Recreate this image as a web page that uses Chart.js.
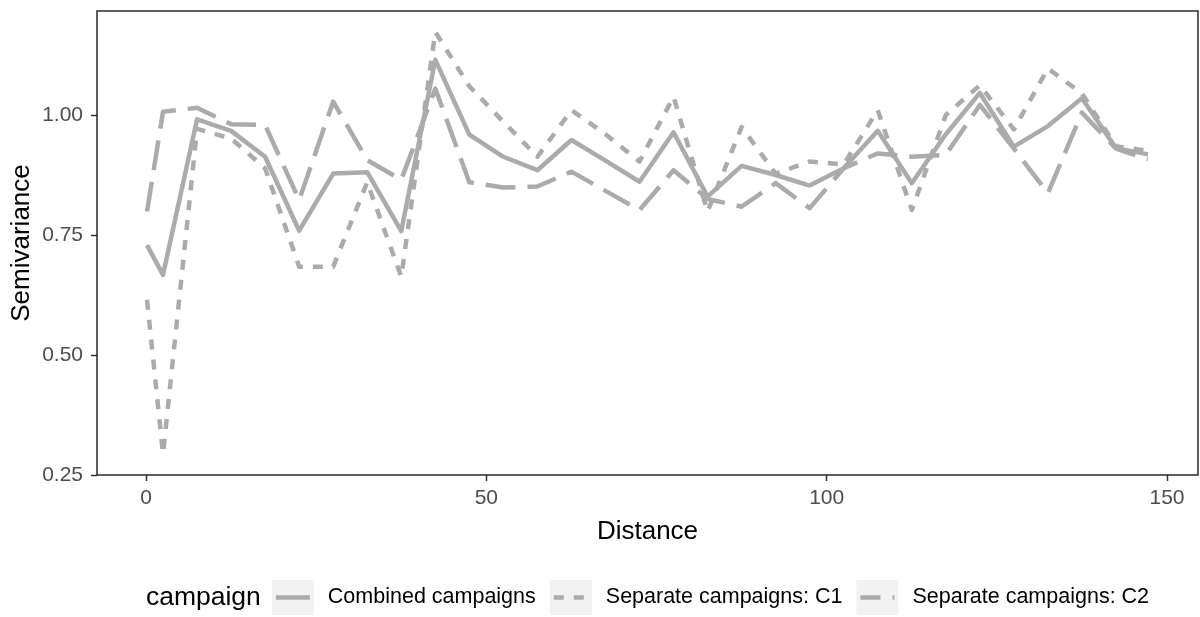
<!DOCTYPE html>
<html>
<head>
<meta charset="utf-8">
<title>Semivariance by distance</title>
<script src="https://cdn.jsdelivr.net/npm/chart.js@4/dist/chart.umd.min.js"></script>
<style>
  html, body { margin: 0; padding: 0; background: #ffffff; }
  canvas { display: block; }
</style>
</head>
<body>
<canvas id="chart" width="1200" height="617"></canvas>
<script>
// Lag distances (bin centres) shared by all three variograms
const distance = [0.15, 2.5, 7.5, 12.5, 17.5, 22.5, 27.5, 32.5, 37.5, 42.5, 47.5,
  52.5, 57.5, 62.5, 67.5, 72.5, 77.5, 82.5, 87.5, 92.5, 97.5, 102.5, 107.5,
  112.5, 117.5, 122.5, 127.5, 132.5, 137.5, 142.5, 147.2];

// Empirical semivariance per lag
const combined = [0.729, 0.667, 0.991, 0.967, 0.913, 0.759, 0.878, 0.881, 0.758, 1.115, 0.959,
  0.913, 0.885, 0.948, 0.905, 0.861, 0.964, 0.830, 0.894, 0.875, 0.853, 0.889, 0.967,
  0.858, 0.960, 1.046, 0.934, 0.977, 1.035, 0.931, 0.918];
const separateC1 = [0.615, 0.294, 0.971, 0.951, 0.889, 0.684, 0.684, 0.860, 0.663, 1.173, 1.060,
  0.986, 0.913, 1.010, 0.960, 0.903, 1.038, 0.799, 0.975, 0.878, 0.903, 0.897, 1.010,
  0.802, 1.000, 1.062, 0.970, 1.097, 1.045, 0.935, 0.925];
const separateC2 = [0.799, 1.007, 1.015, 0.981, 0.979, 0.823, 1.028, 0.906, 0.865, 1.055, 0.860,
  0.849, 0.851, 0.882, 0.842, 0.802, 0.885, 0.825, 0.809, 0.858, 0.806, 0.889, 0.920,
  0.913, 0.917, 1.021, 0.930, 0.837, 1.005, 0.930, 0.908];

const seriesNames = ['Combined campaigns', 'Separate campaigns: C1', 'Separate campaigns: C2'];
const legendTitle = 'campaign';
const xTicks = [0, 50, 100, 150];
const yTicks = [0.25, 0.50, 0.75, 1.00];

const FONT = '"Liberation Sans", Arial, Helvetica, sans-serif';
const LINE_COLOR = '#ababab';
const LINE_WIDTH = 4.5;
const DASHES = [[], [10, 10], [30, 12]];
const KEY_DASH_OFFSET = [0, 0, 10];

const toPoints = ys => distance.map((d, i) => ({ x: d, y: ys[i] }));
const seriesValues = [combined, separateC1, separateC2];

// Frame around the plotting panel, drawn over the lines
const panelBorder = {
  id: 'panelBorder',
  afterDatasetsDraw(chart) {
    const { ctx, chartArea: a } = chart;
    ctx.save();
    ctx.strokeStyle = '#1a1a1a';
    ctx.lineWidth = 1.4;
    ctx.setLineDash([]);
    ctx.strokeRect(a.left, a.top, a.right - a.left, a.bottom - a.top);
    ctx.restore();
  }
};

// Horizontal legend under the axis title
const bottomLegend = {
  id: 'bottomLegend',
  afterDraw(chart) {
    const { ctx, chartArea: a } = chart;
    const keyW = 42, keyH = 35, keyGap = 14, itemGap = 14, titleGap = 11;
    const cy = 597.5;
    ctx.save();
    ctx.textBaseline = 'middle';
    ctx.textAlign = 'left';
    ctx.font = '26.5px ' + FONT;
    const titleW = ctx.measureText(legendTitle).width;
    ctx.font = '21.5px ' + FONT;
    const widths = seriesNames.map(n => ctx.measureText(n).width);
    const total = titleW + titleGap + widths.reduce((s, w) => s + keyW + keyGap + w, 0) + itemGap * (seriesNames.length - 1);
    let x = (a.left + a.right) / 2 - total / 2;

    ctx.fillStyle = '#000000';
    ctx.font = '26.5px ' + FONT;
    ctx.fillText(legendTitle, x, cy);
    x += titleW + titleGap;

    seriesNames.forEach((name, i) => {
      ctx.fillStyle = '#f2f2f2';
      ctx.fillRect(x, cy - keyH / 2, keyW, keyH);
      ctx.strokeStyle = LINE_COLOR;
      ctx.lineWidth = LINE_WIDTH;
      ctx.lineCap = 'butt';
      ctx.setLineDash(DASHES[i]);
      ctx.lineDashOffset = KEY_DASH_OFFSET[i];
      ctx.beginPath();
      ctx.moveTo(x + 4, cy);
      ctx.lineTo(x + keyW - 4, cy);
      ctx.stroke();
      ctx.setLineDash([]);
      ctx.lineDashOffset = 0;
      x += keyW + keyGap;
      ctx.fillStyle = '#000000';
      ctx.font = '21.5px ' + FONT;
      ctx.fillText(name, x, cy);
      x += widths[i] + itemGap;
    });
    ctx.restore();
  }
};

new Chart(document.getElementById('chart'), {
  type: 'line',
  data: {
    datasets: seriesNames.map((name, i) => ({
      label: name,
      data: toPoints(seriesValues[i]),
      borderColor: LINE_COLOR,
      borderWidth: LINE_WIDTH,
      borderDash: DASHES[i],
      borderCapStyle: 'butt',
      borderJoinStyle: 'round',
      pointRadius: 0,
      fill: false,
      tension: 0
    }))
  },
  options: {
    responsive: false,
    animation: false,
    devicePixelRatio: 1,
    layout: { padding: { top: 11, right: 2, left: 0, bottom: 0 } },
    plugins: { legend: { display: false }, tooltip: { enabled: false } },
    scales: {
      x: {
        type: 'linear',
        min: -7.2,
        max: 154.55,
        afterBuildTicks: s => { s.ticks = xTicks.map(v => ({ value: v })); },
        afterFit: s => { s.height = 142; s.paddingLeft = 0; s.paddingRight = 0; },
        grid: { drawOnChartArea: false, drawTicks: true, tickLength: 6, tickColor: '#333333', tickWidth: 1.5 },
        border: { display: false },
        ticks: { color: '#4d4d4d', font: { family: FONT, size: 21 }, padding: 5, maxRotation: 0, autoSkip: false },
        title: { display: true, text: 'Distance', color: '#000000', font: { family: FONT, size: 26 }, padding: { top: 0, bottom: 69.5 } }
      },
      y: {
        type: 'linear',
        min: 0.25,
        max: 1.2167,
        afterBuildTicks: s => { s.ticks = yTicks.map(v => ({ value: v })); },
        afterFit: s => { s.width = 97; s.paddingTop = 0; s.paddingBottom = 0; },
        grid: { drawOnChartArea: false, drawTicks: true, tickLength: 6, tickColor: '#333333', tickWidth: 1.5 },
        border: { display: false },
        ticks: { color: '#4d4d4d', font: { family: FONT, size: 21 }, padding: 8, autoSkip: false,
          callback: v => v.toFixed(2) },
        title: { display: true, text: 'Semivariance', color: '#000000', font: { family: FONT, size: 26 }, padding: { top: 6.4, bottom: 0 } }
      }
    }
  },
  plugins: [panelBorder, bottomLegend]
});
</script>
</body>
</html>
